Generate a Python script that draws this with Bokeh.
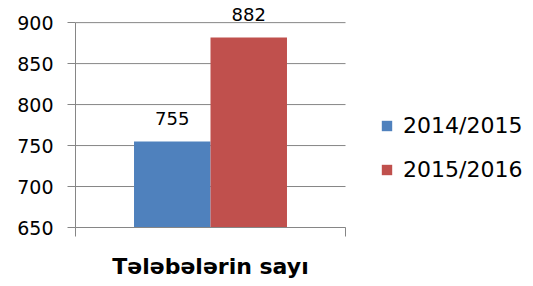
from bokeh.plotting import figure
from bokeh.models import (ColumnDataSource, Range1d, FixedTicker, Legend,
                          LegendItem)
from bokeh.embed import file_html
from bokeh.resources import INLINE

categories = ["Tələbələrin sayı"]
series = ["2014/2015", "2015/2016"]
values = [755, 882]
colors = ["#4F81BD", "#C0504D"]
y_ticks = [650, 700, 750, 800, 850, 900]

FONT = "DejaVu Sans"
GRAY = "#868686"

# layout: each bar is 1 unit wide; gap on each side of the group (in bar widths)
gap = 0.765
n = len(series)
x_lo, x_hi = -0.5 - gap, n - 0.5 + gap
x_mid = (x_lo + x_hi) / 2
# the plotting frame extends right to hold the legend
frame_px, group_px = 458, 270
x_end = x_lo + (x_hi - x_lo) * frame_px / group_px

p = figure(width=533, height=286, x_range=Range1d(x_lo, x_end),
           y_range=Range1d(650, 927), output_backend="svg",
           toolbar_location=None,
           min_border_left=75, min_border_right=0, min_border_top=0,
           min_border_bottom=59)
p.outline_line_color = None
p.xgrid.visible = False
p.ygrid.visible = False

# horizontal gridlines over the category area only
p.segment(x0=x_lo, x1=x_hi, y0=y_ticks, y1=y_ticks, line_color=GRAY,
          line_width=1)

renderers = []
for i, (s, v, c) in enumerate(zip(series, values, colors)):
    src = ColumnDataSource(dict(x=[i], val=[v], lab=[str(v)]))
    r = p.vbar(x="x", top="val", bottom=650, width=1.0,
               fill_color=c, line_color=None, source=src)
    renderers.append((s, r))
    p.text(x="x", y="val", text="lab", source=src, text_align="center",
           text_baseline="alphabetic", y_offset=-23, text_font_size="18px",
           text_color="#000000", text_font={"value": FONT})

# y axis
ya = p.yaxis[0]
ya.ticker = FixedTicker(ticks=y_ticks)
ya.bounds = (650, 900)
ya.major_tick_out = 8
ya.major_tick_in = 0
ya.minor_tick_out = 0
ya.minor_tick_in = 0
ya.axis_line_color = GRAY
ya.major_tick_line_color = GRAY
ya.major_label_text_font = FONT
ya.major_label_text_font_size = "19px"
ya.major_label_text_color = "#000000"
ya.major_label_standoff = 14

# bottom axis: category name at group centre, edge marks as minor ticks
xa = p.xaxis[0]
xa.ticker = FixedTicker(ticks=[x_mid], minor_ticks=[x_lo, x_hi])
xa.bounds = (x_lo, x_hi)
xa.major_label_overrides = {x_mid: categories[0]}
xa.major_tick_out = 0
xa.major_tick_in = 0
xa.minor_tick_out = 9
xa.minor_tick_in = 0
xa.axis_line_color = GRAY
xa.minor_tick_line_color = GRAY
xa.major_label_standoff = 17
xa.major_label_text_font = FONT
xa.major_label_text_font_style = "bold"
xa.major_label_text_font_size = "22px"
xa.major_label_text_color = "#000000"

legend = Legend(items=[LegendItem(label=s, renderers=[r]) for s, r in renderers],
                location=(305, 45), orientation="vertical")
legend.label_text_font = FONT
legend.label_text_font_size = "22px"
legend.label_text_color = "#000000"
legend.glyph_width = 13
legend.glyph_height = 13
legend.label_height = 13
legend.label_standoff = 10
legend.spacing = 19
legend.padding = 0
legend.margin = 0
legend.border_line_color = None
legend.background_fill_alpha = 0
p.add_layout(legend, "center")

open("out.html", "w").write(file_html(p, INLINE))
